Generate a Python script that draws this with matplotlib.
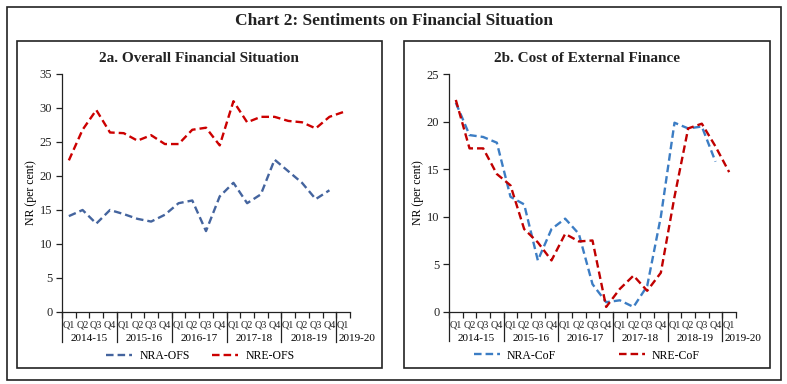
import matplotlib.pyplot as plt
from matplotlib.patches import Rectangle
from matplotlib.transforms import blended_transform_factory

# categories
quarters = ["Q1", "Q2", "Q3", "Q4"] * 5 + ["Q1"]
years = ["2014-15", "2015-16", "2016-17", "2017-18", "2018-19", "2019-20"]

# 2a. Overall Financial Situation
nra_ofs = [14.1, 15.0, 13.0, 15.0, 14.4, 13.7, 13.3, 14.3, 16.0, 16.4, 11.9,
           17.0, 19.0, 16.0, 17.3, 22.4, 20.7, 19.0, 16.6, 17.9, None]
nre_ofs = [22.3, 26.8, 29.7, 26.4, 26.3, 25.2, 26.0, 24.7, 24.7, 26.8, 27.1,
           24.5, 31.0, 27.9, 28.7, 28.7, 28.1, 27.9, 27.0, 28.7, 29.4]

# 2b. Cost of External Finance
nra_cof = [22.0, 18.6, 18.4, 17.8, 12.1, 11.3, 5.4, 8.7, 9.8, 8.2, 2.9,
           1.0, 1.2, 0.5, 2.7, 10.0, 19.9, 19.3, 19.5, 15.8, None]
nre_cof = [22.3, 17.2, 17.2, 14.5, 13.3, 8.7, 7.3, 5.4, 8.2, 7.4, 7.5,
           0.5, 2.4, 3.8, 2.2, 4.1, 12.1, 19.3, 19.8, 17.4, 14.7]

W, H = 787, 384
serif = "Liberation Serif"
plt.rcParams["font.family"] = serif

fig = plt.figure(figsize=(W / 100, H / 100), dpi=100)


def px_rect(x0, y0, x1, y1, lw):
    fig.patches.append(Rectangle((x0 / W, 1 - y1 / H), (x1 - x0) / W, (y1 - y0) / H,
                                 transform=fig.transFigure, fill=False,
                                 edgecolor="#222222", linewidth=lw))


px_rect(7, 7, 781, 380, 1.2)
px_rect(17, 41, 382, 368, 1.2)
px_rect(404, 41, 770, 368, 1.2)

fig.text(394 / W, 1 - 21 / H, "Chart 2: Sentiments on Financial Situation",
         ha="center", va="center", fontsize=12.5, fontweight="bold", color="#222222")


def panel(rect, title, title_x, s1, s2, names, c1, c2, ymax, step, leg_spacing):
    ax = fig.add_axes(rect)
    x = list(range(len(quarters)))
    ax.plot(x, s1, color=c1, lw=1.7, dashes=(3.2, 1.7), label=names[0])
    ax.plot(x, s2, color=c2, lw=1.7, dashes=(3.2, 1.7), label=names[1])
    ax.set_xlim(-0.5, len(quarters) - 0.5)
    ax.set_ylim(0, ymax)
    ax.set_yticks(range(0, ymax + 1, step))
    for s in ["top", "right"]:
        ax.spines[s].set_visible(False)
    for s in ["left", "bottom"]:
        ax.spines[s].set_color("#222222")
        ax.spines[s].set_linewidth(0.9)
    ax.tick_params(axis="y", labelsize=9, length=4, width=0.9, pad=3, colors="#222222")
    ax.set_xticks(x)
    ax.set_xticklabels(quarters, fontsize=7.3)
    ax.set_xticks([i - 0.5 for i in range(len(quarters) + 1)], minor=True)
    ax.tick_params(axis="x", which="major", length=0, pad=6, colors="#222222")
    ax.tick_params(axis="x", which="minor", length=4, width=0.9, colors="#222222")
    ax.set_ylabel("NR (per cent)", fontsize=8.5, labelpad=2)

    tr = blended_transform_factory(ax.transData, ax.transAxes)
    for k in range(6):
        xb = 4 * k - 0.5
        ax.plot([xb, xb], [0, -0.125], transform=tr, color="#222222", lw=0.9, clip_on=False)
        if k < 5:
            ax.text(4 * k + 1.5, -0.112, years[k], transform=tr, ha="center", va="center",
                    fontsize=8)
        else:
            ax.text(xb + 0.15, -0.112, years[k], transform=tr, ha="left", va="center",
                    fontsize=8)

    fig.text(title_x / W, 1 - 58 / H, title, ha="center", va="center",
             fontsize=11, fontweight="bold", color="#222222")
    ax.legend(loc="center", bbox_to_anchor=(0.48, -0.185), ncol=2, frameon=False,
              fontsize=8.5, handlelength=2.2, columnspacing=leg_spacing, handletextpad=0.6)
    return ax


panel([62 / W, (H - 312) / H, 288 / W, 238 / H], "2a. Overall Financial Situation", 199,
      nra_ofs, nre_ofs, ["NRA-OFS", "NRE-OFS"], "#44649E", "#CC0000", 35, 5, 1.9)
panel([449 / W, (H - 311.7) / H, 287 / W, 237.4 / H], "2b. Cost of External Finance", 587,
      nra_cof, nre_cof, ["NRA-CoF", "NRE-CoF"], "#3C7DC4", "#C00000", 25, 5, 5.3)

fig.savefig("out.png", dpi=100)
